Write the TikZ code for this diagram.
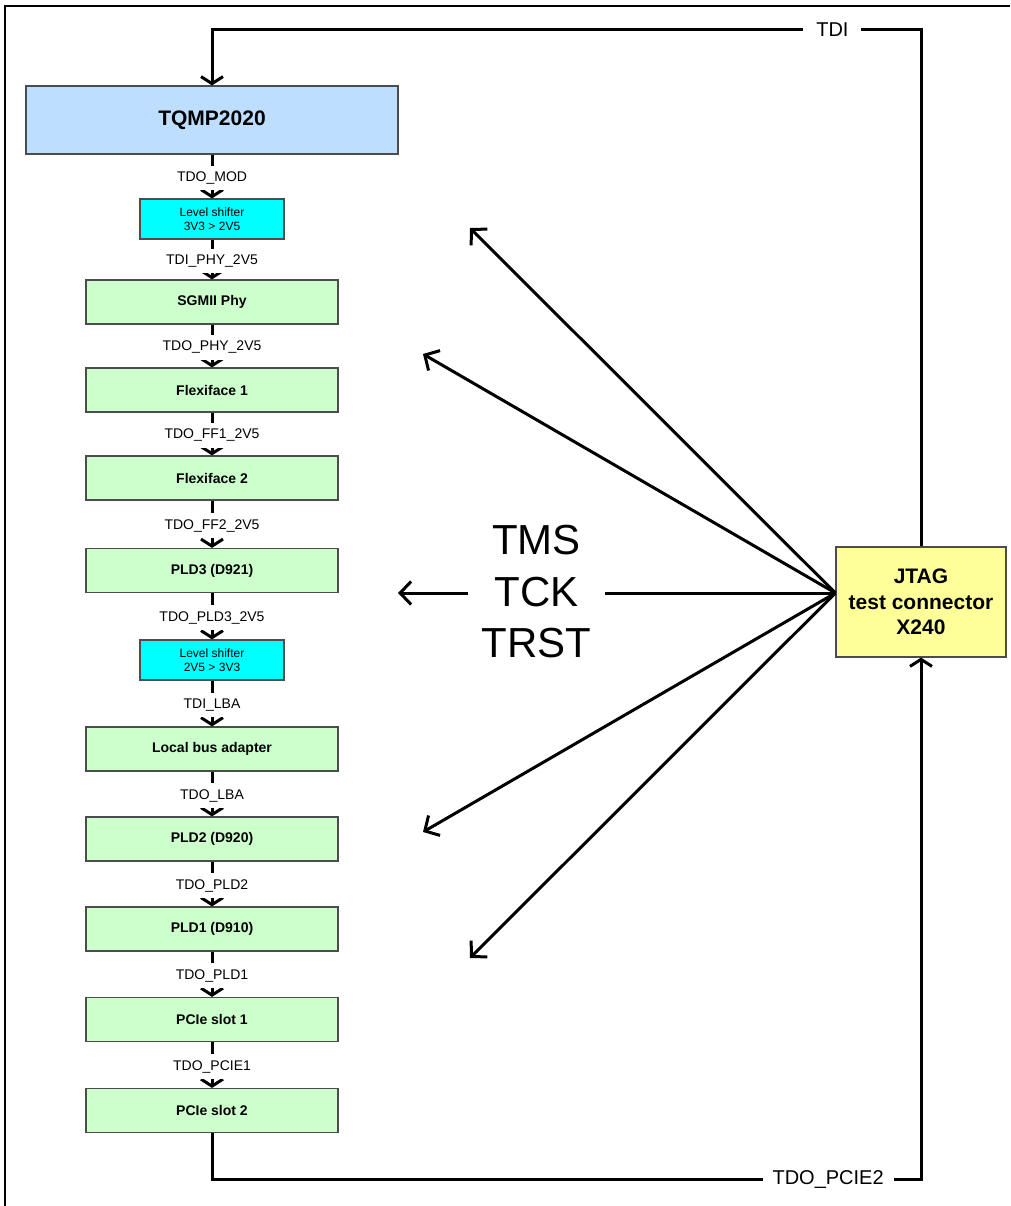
\documentclass[tikz,border=0pt]{standalone}
\usepackage{fontspec}
\setmainfont{Liberation Sans}
\usetikzlibrary{arrows.meta,calc}

\definecolor{modblue}{RGB}{190,222,255}
\definecolor{devgreen}{RGB}{204,255,204}
\definecolor{shiftcyan}{RGB}{0,255,255}
\definecolor{conyellow}{RGB}{255,255,153}

\tikzset{
  box/.style={draw=black!70, line width=1.2pt, fill=devgreen,
    minimum width=252pt, minimum height=44pt, inner sep=0pt,
    font=\fontsize{14}{16}\selectfont\bfseries},
  shifter/.style={box, fill=shiftcyan, minimum width=144pt, minimum height=40pt,
    align=center, font=\fontsize{12}{14}\selectfont},
  wire/.style={line width=3pt, -{Straight Barb[length=7pt,width=22pt]}},
  loop/.style={line width=3pt},
  fanarrow/.style={line width=3pt, -{Straight Barb[length=11pt,width=23pt]}},
  sig/.style={fill=white, inner xsep=2pt, inner ysep=6pt, yshift=-1.5pt,
    font=\fontsize{14}{16}\selectfont},
  looplabel/.style={fill=white, inner xsep=13pt, inner ysep=4pt,
    font=\fontsize{20}{24}\selectfont},
}

\begin{document}
\begin{tikzpicture}[x=1pt,y=-1pt]
  \useasboundingbox (0,0) rectangle (1010,1206);

  % outer frame (top and left edges)
  \draw[line width=1.5pt] (5,1206) -- (5,6) -- (1010,6);

  % scan chain
  \node[box, fill=modblue, minimum width=372pt, minimum height=68pt,
        font=\fontsize{21}{25}\selectfont\bfseries] (tqmp) at (212,120) {TQMP2020};
  \node[shifter] (ls1) at (212,219) {Level shifter\\3V3 > 2V5};
  \node[box] (sgmii) at (212,302) {SGMII Phy};
  \node[box] (ff1) at (212,390) {Flexiface 1};
  \node[box] (ff2) at (212,478) {Flexiface 2};
  \node[box] (pld3) at (212,570.5) {PLD3 (D921)};
  \node[shifter] (ls2) at (212,660) {Level shifter\\2V5 > 3V3};
  \node[box] (lba) at (212,749) {Local bus adapter};
  \node[box] (pld2) at (212,839) {PLD2 (D920)};
  \node[box] (pld1) at (212,929) {PLD1 (D910)};
  \node[box] (pcie1) at (212,1019.5) {PCIe slot 1};
  \node[box] (pcie2) at (212,1110.5) {PCIe slot 2};

  % JTAG connector
  \node[draw=black!70, line width=1.2pt, fill=conyellow, minimum width=170pt,
        minimum height=110pt, align=center,
        font=\fontsize{21}{25.5}\selectfont\bfseries] (jtag) at (921,602)
        {JTAG\\test connector\\X240};

  % chain connections
  \draw[wire] (tqmp) -- node[sig] {TDO\_MOD} (ls1);
  \draw[wire] (ls1) -- node[sig] {TDI\_PHY\_2V5} (sgmii);
  \draw[wire] (sgmii) -- node[sig] {TDO\_PHY\_2V5} (ff1);
  \draw[wire] (ff1) -- node[sig] {TDO\_FF1\_2V5} (ff2);
  \draw[wire] (ff2) -- node[sig] {TDO\_FF2\_2V5} (pld3);
  \draw[wire] (pld3) -- node[sig] {TDO\_PLD3\_2V5} (ls2);
  \draw[wire] (ls2) -- node[sig] {TDI\_LBA} (lba);
  \draw[wire] (lba) -- node[sig] {TDO\_LBA} (pld2);
  \draw[wire] (pld2) -- node[sig] {TDO\_PLD2} (pld1);
  \draw[wire] (pld1) -- node[sig] {TDO\_PLD1} (pcie1);
  \draw[wire] (pcie1) -- node[sig] {TDO\_PCIE1} (pcie2);

  % TDI from connector to the module
  \coordinate (tr) at (921,30);
  \coordinate (tl) at (212,30);
  \draw[wire] (jtag) -- (tr) -- node[looplabel, pos=0.125] {TDI} (tl) -- (tqmp);

  % TDO back from the last slot to the connector
  \coordinate (bl) at (212,1179);
  \coordinate (br) at (921,1179);
  \draw[wire] (pcie2) -- (bl) -- node[looplabel, pos=0.869, inner xsep=10pt] {TDO\_PCIE2} (br) -- (jtag);

  % TMS / TCK / TRST fan-out
  \coordinate (fan) at ($(jtag.west)+(0,-9)$);
  \node[inner xsep=13pt, inner ysep=0pt, align=center,
        font=\fontsize{42}{51.5}\selectfont] (sigs) at (536.5,592) {TMS\\TCK\\TRST};
  \coordinate (t1) at (470,228);
  \coordinate (t2) at (423,354);
  \coordinate (t3) at (398,593);
  \coordinate (t4) at (423,832);
  \coordinate (t5) at (470,958);
  \draw[fanarrow] (fan) -- (t1);
  \draw[fanarrow] (fan) -- (t2);
  \draw[loop] (fan) -- (sigs.east |- fan);
  \draw[fanarrow] (sigs.west |- fan) -- (t3);
  \draw[fanarrow] (fan) -- (t4);
  \draw[fanarrow] (fan) -- (t5);
\end{tikzpicture}
\end{document}
